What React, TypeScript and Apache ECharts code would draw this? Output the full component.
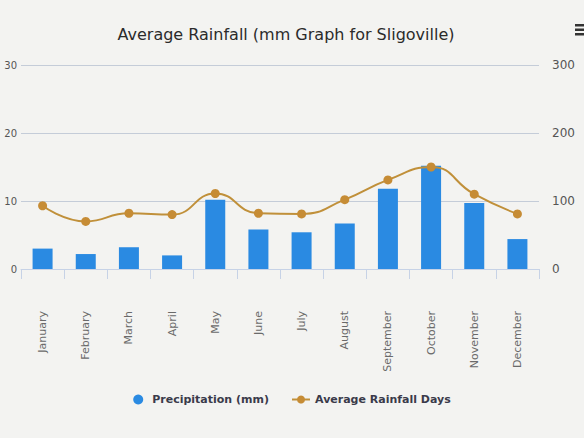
import React, { useEffect, useRef } from "react";
import * as echarts from "echarts";

const months = [
  "January", "February", "March", "April", "May", "June",
  "July", "August", "September", "October", "November", "December",
];
const precipitation = [30, 22, 32, 20, 102, 58, 54, 67, 118, 152, 97, 44];
const rainfallDays = [9.3, 7.0, 8.2, 8.0, 11.1, 8.2, 8.1, 10.2, 13.1, 15.0, 11.0, 8.1];
const daysTicks = { min: 0, max: 30, interval: 10 };
const mmTicks = { min: 0, max: 300, interval: 100 };

const FONT = "DejaVu Sans";

export default function App() {
  const ref = useRef<HTMLDivElement>(null);
  useEffect(() => {
    if (!ref.current) return;
    const chart = echarts.init(ref.current, null, { renderer: "svg" });
    chart.setOption({
      animation: false,
      backgroundColor: "#f3f3f1",
      textStyle: { fontFamily: FONT },
      title: {
        text: "Average Rainfall (mm Graph for Sligoville)",
        left: 281,
        top: 21,
        textAlign: "center",
        textStyle: { fontFamily: FONT, fontSize: 16, fontWeight: "normal", color: "#2b2b2b" },
      },
      legend: {
        top: 389,
        left: "center",
        itemGap: 22,
        itemWidth: 18,
        itemHeight: 10,
        textStyle: { fontFamily: FONT, fontSize: 11, fontWeight: "bold", color: "#3a3a4a" },
        data: [
          { name: "Precipitation (mm)", icon: "circle" },
          { name: "Average Rainfall Days" },
        ],
      },
      grid: { left: 21, right: 45, top: 65, bottom: 169, containLabel: false, outerBoundsMode: "none" },
      xAxis: {
        type: "category",
        data: months,
        boundaryGap: true,
        axisLine: { lineStyle: { color: "#c6d2e6" } },
        axisTick: { show: true, length: 10, lineStyle: { color: "#c6d2e6" } },
        axisLabel: { rotate: 90, margin: 42, fontSize: 11, color: "#6a6a6a", fontFamily: FONT },
      },
      yAxis: [
        {
          type: "value",
          ...daysTicks,
          position: "left",
          axisLine: { show: false },
          axisTick: { show: false },
          axisLabel: { margin: 4, fontSize: 10, color: "#555", fontFamily: FONT },
          splitLine: { lineStyle: { color: "#c4ccd8", width: 1 } },
        },
        {
          type: "value",
          ...mmTicks,
          position: "right",
          axisLine: { show: false },
          axisTick: { show: false },
          axisLabel: { margin: 13, fontSize: 12, color: "#555", fontFamily: FONT },
          splitLine: { show: false },
        },
      ],
      series: [
        {
          name: "Precipitation (mm)",
          type: "bar",
          yAxisIndex: 1,
          data: precipitation,
          barWidth: 20,
          itemStyle: { color: "#2a8ae2" },
        },
        {
          name: "Average Rainfall Days",
          type: "line",
          yAxisIndex: 0,
          data: rainfallDays,
          smooth: 0.5,
          symbol: "circle",
          symbolSize: 9,
          lineStyle: { color: "#c0903a", width: 2 },
          itemStyle: { color: "#c68c35" },
        },
      ],
      graphic: [
        { type: "rect", shape: { x: 575, y: 24, width: 9, height: 2.5 }, style: { fill: "#333" } },
        { type: "rect", shape: { x: 575, y: 28.5, width: 9, height: 2.5 }, style: { fill: "#333" } },
        { type: "rect", shape: { x: 575, y: 33, width: 9, height: 2.5 }, style: { fill: "#333" } },
      ],
    });
    return () => chart.dispose();
  }, []);
  return (
    <div
      ref={ref}
      style={{ position: "fixed", left: 0, top: 0, width: 584, height: 438 }}
    />
  );
}
